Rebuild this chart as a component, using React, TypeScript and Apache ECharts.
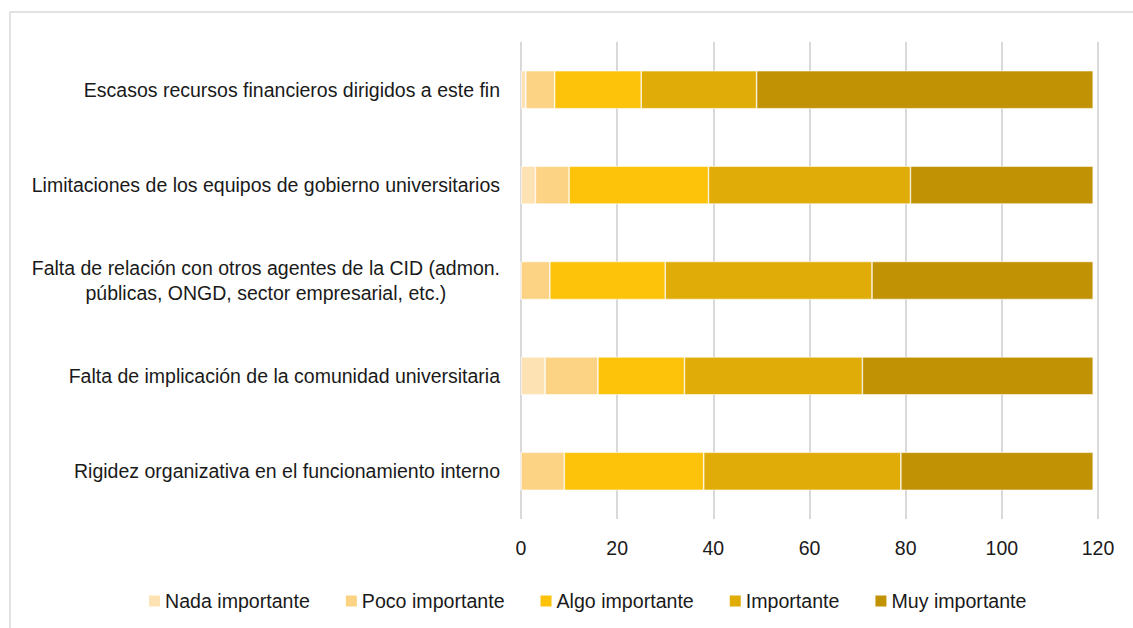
import React, { useEffect, useRef } from "react";
import * as echarts from "echarts";

const categories = [
  "Escasos recursos financieros dirigidos a este fin",
  "Limitaciones de los equipos de gobierno universitarios",
  "Falta de relación con otros agentes de la CID (admon.\npúblicas, ONGD, sector empresarial, etc.)",
  "Falta de implicación de la comunidad universitaria",
  "Rigidez organizativa en el funcionamiento interno",
];

const seriesNames = [
  "Nada importante",
  "Poco importante",
  "Algo importante",
  "Importante",
  "Muy importante",
];

const nadaImportante = [1, 3, 0, 5, 0];
const pocoImportante = [6, 7, 6, 11, 9];
const algoImportante = [18, 29, 24, 18, 29];
const importante = [24, 42, 43, 37, 41];
const muyImportante = [70, 38, 46, 48, 40];

const colors = ["#FDE2B4", "#FCD284", "#FDC20A", "#E0AD08", "#C09204"];

const FONT = "'Liberation Sans Narrow', 'Arial Narrow', 'Liberation Sans', Arial, sans-serif";
const TEXT = "#1a1a1a";

export default function App() {
  const ref = useRef<HTMLDivElement>(null);
  useEffect(() => {
    document.body.style.margin = "0";
    const chart = echarts.init(ref.current!, null, { renderer: "svg" });
    const data = [nadaImportante, pocoImportante, algoImportante, importante, muyImportante];
    chart.setOption({
      animation: false,
      backgroundColor: "#ffffff",
      textStyle: { fontFamily: FONT },
      graphic: [
        {
          type: "rect",
          shape: { x: 10, y: 12, width: 1140, height: 640 },
          style: { fill: "none", stroke: "#d9d9d9", lineWidth: 1.5 },
          silent: true,
        },
      ],
      grid: { left: 521, right: 35, top: 42, bottom: 109 },
      legend: {
        left: 142,
        top: 586,
        itemWidth: 13,
        itemHeight: 13,
        itemGap: 34,
        icon: "rect",
        textStyle: { fontFamily: FONT, fontSize: 19.6, color: TEXT, padding: [0, 0, 0, -1] },
        data: seriesNames,
      },
      xAxis: {
        type: "value",
        min: 0,
        max: 120,
        interval: 20,
        axisLine: { show: false },
        axisTick: { show: false },
        splitLine: { lineStyle: { color: "#d9d9d9", width: 2 } },
        axisLabel: { fontFamily: FONT, fontSize: 19.5, color: TEXT, margin: 19 },
      },
      yAxis: {
        type: "category",
        inverse: true,
        data: categories,
        axisLine: { show: false },
        axisTick: { show: false },
        axisLabel: {
          margin: 21,
          formatter: (v: string) =>
            v
              .split("\n")
              .map((l) => "{c|" + l + "}")
              .join("\n"),
          rich: {
            c: { fontFamily: FONT, fontSize: 19.5, color: TEXT, align: "center", lineHeight: 25 },
          },
        },
      },
      series: seriesNames.map((name, i) => ({
        name,
        type: "bar",
        stack: "total",
        barWidth: 38,
        data: data[i],
        itemStyle: { color: colors[i], borderColor: "#ffffff", borderWidth: 0.6 },
      })),
    });
    return () => chart.dispose();
  }, []);
  return <div ref={ref} style={{ width: 1133, height: 628 }} />;
}
